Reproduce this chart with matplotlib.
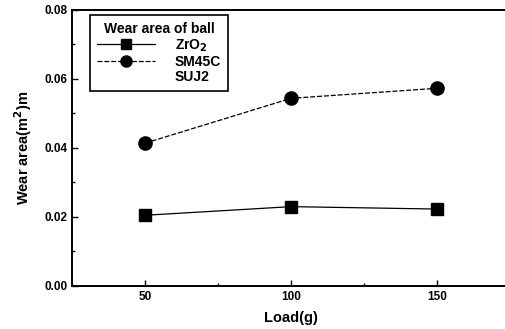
import matplotlib
matplotlib.use('Agg')
import matplotlib.pyplot as plt
from matplotlib.lines import Line2D
from matplotlib.ticker import MultipleLocator, FormatStrFormatter

plt.rcParams['font.family'] = ['Liberation Sans', 'DejaVu Sans']
plt.rcParams['font.weight'] = 'bold'

load = [50, 100, 150]
zro2 = [0.0205, 0.0230, 0.0223]
sm45c = [0.0414, 0.0544, 0.0573]

fig = plt.figure(figsize=(5.05, 3.29), dpi=100)
ax = fig.add_axes([0.1426, 0.1307, 0.868, 0.839])

ax.plot(load, zro2, color='black', lw=0.9, marker='s', ms=8.5)
ax.plot(load, sm45c, color='black', lw=0.9, ls=(0, (4, 1.5)), marker='o', ms=9.5)

ax.set_xlim(25, 175)
ax.set_ylim(0, 0.08)
ax.xaxis.set_major_locator(MultipleLocator(50))
ax.xaxis.set_minor_locator(MultipleLocator(25))
ax.yaxis.set_major_locator(MultipleLocator(0.02))
ax.yaxis.set_minor_locator(MultipleLocator(0.01))
ax.yaxis.set_major_formatter(FormatStrFormatter('%.2f'))
ax.tick_params(which='both', direction='in', labelsize=8.5, width=1)
ax.tick_params(which='major', length=4)
ax.tick_params(which='minor', length=2.5)
ax.spines['right'].set_visible(False)
for s in ax.spines.values():
    s.set_linewidth(1.4)

ax.set_xlabel('Load(g)', fontsize=10.5, fontweight='bold', labelpad=6)
ax.set_ylabel('Wear area(m$^2$)m', fontsize=10.5, fontweight='bold', labelpad=7)

handles = [Line2D([], [], color='black', lw=0.9, marker='s', ms=7),
           Line2D([], [], color='black', lw=0.9, ls=(0, (4, 1.5)), marker='o', ms=8),
           Line2D([], [], color='none')]
leg = ax.legend(handles, ['ZrO$_2$', 'SM45C', 'SUJ2'], title='Wear area of ball',
                loc='upper left', bbox_to_anchor=(0.041, 0.982), borderaxespad=0,
                fontsize=10, title_fontproperties={'weight': 'bold', 'size': 10},
                handlelength=4.2, handletextpad=1.4, labelspacing=0.1, borderpad=0.5,
                fancybox=False, edgecolor='black', framealpha=1)
leg.get_frame().set_linewidth(1.2)

fig.savefig('out.png', dpi=100)
